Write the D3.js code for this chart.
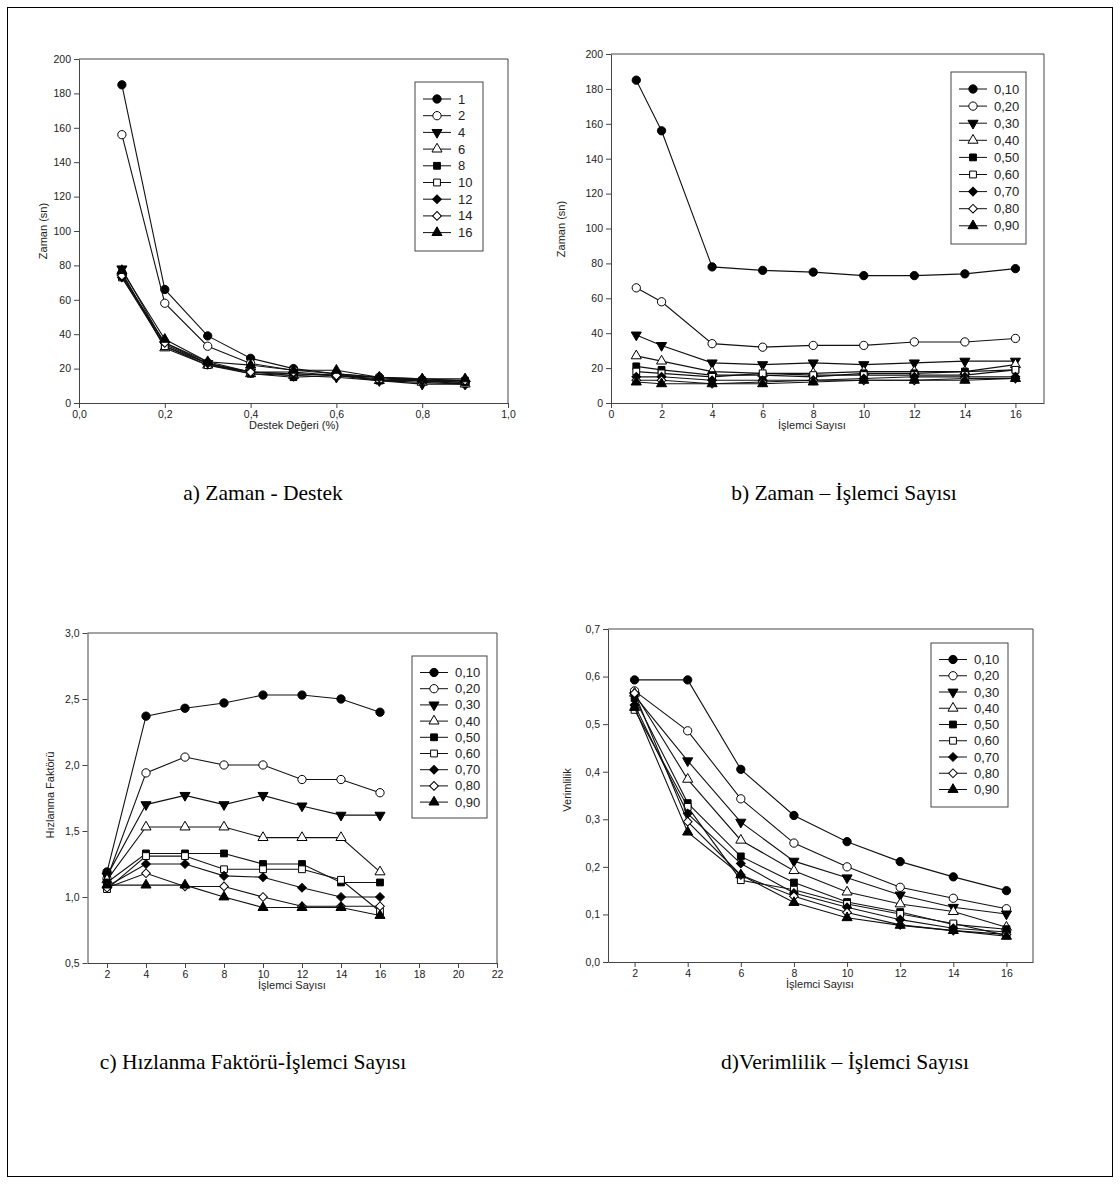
<!DOCTYPE html>
<html>
<head>
<meta charset="utf-8">
<script src="https://cdn.jsdelivr.net/npm/d3@7"></script>
<style>
  body { margin: 0; background: #fff; }
  svg { display: block; }
  .axis path, .axis line { stroke: #444; }
  .axis text { font-family: Arial, "Liberation Sans", sans-serif; font-size: 10.5px; fill: #222; }
  .label { font-family: Arial, "Liberation Sans", sans-serif; font-size: 11px; fill: #222; }
  .legend text { font-family: Arial, "Liberation Sans", sans-serif; font-size: 13px; fill: #222; }
  .caption { font-family: "Liberation Serif", "Times New Roman", serif; font-size: 21.5px; fill: #000; }
</style>
</head>
<body>
<svg id="fig" width="1120" height="1184"></svg>
<script>
// ---- data ----
const supportValues = [0.1, 0.2, 0.3, 0.4, 0.5, 0.6, 0.7, 0.8, 0.9];
const processorNames = ["1", "2", "4", "6", "8", "10", "12", "14", "16"];
const supportNames = ["0,10", "0,20", "0,30", "0,40", "0,50", "0,60", "0,70", "0,80", "0,90"];
const processorsB = [1, 2, 4, 6, 8, 10, 12, 14, 16];
const processorsCD = [2, 4, 6, 8, 10, 12, 14, 16];

// a) time vs support, one row per processor count
const timeBySupport = [
  [185, 66, 39, 26, 20, 17, 15, 13, 12],
  [156, 58, 33, 23, 19, 17, 15, 13, 11],
  [78, 34, 23, 18, 16, 15, 13, 11, 11],
  [76, 32, 22, 17, 16, 17, 13, 12, 11],
  [75, 33, 23, 17, 15, 16, 13, 13, 12],
  [73, 33, 22, 18, 17, 16, 14, 13, 13],
  [73, 35, 23, 18, 17, 16, 15, 13, 13],
  [74, 35, 24, 18, 18, 16, 15, 14, 13],
  [77, 37, 24, 22, 19, 19, 15, 14, 14],
];

// b) time vs processor count, one row per support value
const timeByProcessors = [
  [185, 156, 78, 76, 75, 73, 73, 74, 77],
  [66, 58, 34, 32, 33, 33, 35, 35, 37],
  [39, 33, 23, 22, 23, 22, 23, 24, 24],
  [27, 24, 18, 17, 17, 18, 18, 18, 22],
  [21, 19, 16, 16, 15, 17, 17, 18, 19],
  [18, 17, 15, 17, 16, 16, 16, 16, 19],
  [15, 15, 13, 13, 13, 14, 15, 15, 15],
  [13, 13, 11, 12, 13, 13, 13, 14, 14],
  [12, 11, 11, 11, 12, 13, 13, 13, 14],
];

// c) speed-up vs processor count
const speedup = [
  [1.19, 2.37, 2.43, 2.47, 2.53, 2.53, 2.50, 2.40],
  [1.14, 1.94, 2.06, 2.00, 2.00, 1.89, 1.89, 1.79],
  [1.16, 1.70, 1.77, 1.70, 1.77, 1.69, 1.62, 1.62],
  [1.13, 1.53, 1.53, 1.53, 1.45, 1.45, 1.45, 1.19],
  [1.11, 1.33, 1.33, 1.33, 1.25, 1.25, 1.11, 1.11],
  [1.06, 1.31, 1.31, 1.21, 1.21, 1.21, 1.13, 0.89],
  [1.08, 1.25, 1.25, 1.16, 1.15, 1.07, 1.00, 1.00],
  [1.07, 1.18, 1.08, 1.08, 1.00, 0.93, 0.93, 0.93],
  [1.09, 1.09, 1.09, 1.00, 0.92, 0.92, 0.92, 0.86],
];

// d) efficiency vs processor count
const efficiency = [
  [0.593, 0.593, 0.405, 0.308, 0.253, 0.211, 0.179, 0.150],
  [0.570, 0.486, 0.343, 0.250, 0.200, 0.157, 0.134, 0.112],
  [0.560, 0.423, 0.294, 0.212, 0.177, 0.141, 0.115, 0.101],
  [0.565, 0.384, 0.256, 0.192, 0.147, 0.122, 0.106, 0.073],
  [0.555, 0.334, 0.222, 0.167, 0.126, 0.105, 0.079, 0.069],
  [0.530, 0.326, 0.172, 0.152, 0.122, 0.101, 0.081, 0.056],
  [0.540, 0.312, 0.207, 0.145, 0.115, 0.089, 0.071, 0.063],
  [0.565, 0.295, 0.183, 0.138, 0.104, 0.078, 0.066, 0.058],
  [0.535, 0.273, 0.183, 0.125, 0.093, 0.077, 0.066, 0.054],
];

const captions = [
  "a) Zaman - Destek",
  "b) Zaman – İşlemci Sayısı",
  "c) Hızlanma Faktörü-İşlemci Sayısı",
  "d)Verimlilik – İşlemci Sayısı",
];

// marker style for the i-th series (same order in every panel)
const markers = [
  {type: d3.symbolCircle, size: 54, fill: "#000"},
  {type: d3.symbolCircle, size: 54, fill: "#fff"},
  {type: d3.symbolTriangle, size: 44, fill: "#000", rotate: 180},
  {type: d3.symbolTriangle, size: 44, fill: "#fff"},
  {type: d3.symbolSquare, size: 46, fill: "#000"},
  {type: d3.symbolSquare, size: 46, fill: "#fff"},
  {type: d3.symbolSquare, size: 38, fill: "#000", rotate: 45},
  {type: d3.symbolSquare, size: 38, fill: "#fff", rotate: 45},
  {type: d3.symbolTriangle, size: 44, fill: "#000"},
];

const comma = f => v => d3.format(f)(v).replace(".", ",");

const svg = d3.select("#fig");

// outer frame
svg.append("rect")
  .attr("x", 7.5).attr("y", 7.5)
  .attr("width", 1105).attr("height", 1169)
  .attr("fill", "none").attr("stroke", "#000");


function drawMarker(g, i, x, y) {
  let m = markers[i];
  g.append("path")
    .attr("d", d3.symbol(m.type, m.size)())
    .attr("transform", `translate(${x},${y})` + (m.rotate ? ` rotate(${m.rotate})` : ""))
    .attr("fill", m.fill)
    .attr("stroke", "#000")
    .attr("stroke-width", 1);
}


function drawPanel({
  left, right, top, bottom,
  xlim, ylim, xticks, yticks, xfmt, yfmt,
  xs, rows, names,
  xlabel, xlabelAt, ylabel, ylabelAt,
  legend,
}) {
  const x = d3.scaleLinear().domain(xlim).range([left, right]);
  const y = d3.scaleLinear().domain(ylim).range([bottom, top]);

  const g = svg.append("g");

  // frame (top and right sides)
  g.append("path")
    .attr("d", `M${left},${top}H${right}V${bottom}`)
    .attr("fill", "none").attr("stroke", "#444");

  g.append("g")
    .classed("axis", true)
    .attr("transform", `translate(0,${bottom})`)
    .call(d3.axisBottom(x).tickValues(xticks).tickSize(5).tickSizeOuter(0).tickFormat(xfmt));

  g.append("g")
    .classed("axis", true)
    .attr("transform", `translate(${left},0)`)
    .call(d3.axisLeft(y).tickValues(yticks).tickSize(5).tickSizeOuter(0).tickFormat(yfmt));

  g.append("text")
    .classed("label", true)
    .attr("x", xlabelAt[0]).attr("y", xlabelAt[1])
    .attr("text-anchor", "middle")
    .text(xlabel);

  g.append("text")
    .classed("label", true)
    .attr("transform", `translate(${ylabelAt[0]},${ylabelAt[1]}) rotate(-90)`)
    .attr("text-anchor", "middle")
    .text(ylabel);

  const line = d3.line()
    .x((_, j) => x(xs[j]))
    .y(v => y(v));

  rows.forEach((row, i) => {
    const sg = g.append("g");
    sg.append("path")
      .attr("d", line(row))
      .attr("fill", "none")
      .attr("stroke", "#111")
      .attr("stroke-width", 1.1);
    row.forEach((v, j) => drawMarker(sg, i, x(xs[j]), y(v)));
  });

  // legend
  const lg = g.append("g").classed("legend", true);
  lg.append("rect")
    .attr("x", legend.x).attr("y", legend.y)
    .attr("width", legend.w).attr("height", legend.h)
    .attr("fill", "#fff").attr("stroke", "#444");
  names.forEach((name, i) => {
    const ly = legend.y + legend.first + i * legend.step;
    lg.append("line")
      .attr("x1", legend.x + 8).attr("x2", legend.x + 36)
      .attr("y1", ly).attr("y2", ly)
      .attr("stroke", "#111");
    drawMarker(lg, i, legend.x + 22, ly);
    lg.append("text")
      .attr("x", legend.x + 43).attr("y", ly)
      .attr("dy", "0.35em")
      .text(name);
  });
}


drawPanel({
  left: 79, right: 508, top: 59, bottom: 403,
  xlim: [0, 1], ylim: [0, 200],
  xticks: d3.range(0, 1.01, 0.2), yticks: d3.range(0, 201, 20),
  xfmt: comma(".1f"), yfmt: d3.format("d"),
  xs: supportValues, rows: timeBySupport, names: processorNames,
  xlabel: "Destek Değeri (%)", xlabelAt: [294, 429],
  ylabel: "Zaman (sn)", ylabelAt: [47, 231],
  legend: {x: 415, y: 82, w: 68, h: 169, first: 17, step: 16.7},
});

drawPanel({
  left: 611, right: 1044, top: 54, bottom: 403,
  xlim: [0, 17.13], ylim: [0, 200],
  xticks: d3.range(0, 17, 2), yticks: d3.range(0, 201, 20),
  xfmt: d3.format("d"), yfmt: d3.format("d"),
  xs: processorsB, rows: timeByProcessors, names: supportNames,
  xlabel: "İşlemci Sayısı", xlabelAt: [812, 429],
  ylabel: "Zaman (sn)", ylabelAt: [565, 229],
  legend: {x: 951, y: 72, w: 75, h: 172, first: 17, step: 17.1},
});

drawPanel({
  left: 87.5, right: 497, top: 633, bottom: 963,
  xlim: [1, 22], ylim: [0.5, 3.0],
  xticks: d3.range(2, 23, 2), yticks: d3.range(0.5, 3.01, 0.5),
  xfmt: d3.format("d"), yfmt: comma(".1f"),
  xs: processorsCD, rows: speedup, names: supportNames,
  xlabel: "İşlemci Sayısı", xlabelAt: [292, 989],
  ylabel: "Hızlanma Faktörü", ylabelAt: [54, 795],
  legend: {x: 412, y: 656, w: 75, h: 162, first: 16.5, step: 16.2},
});

drawPanel({
  left: 608, right: 1033, top: 629, bottom: 962,
  xlim: [1, 17], ylim: [0, 0.7],
  xticks: d3.range(2, 17, 2), yticks: d3.range(0, 0.71, 0.1),
  xfmt: d3.format("d"), yfmt: comma(".1f"),
  xs: processorsCD, rows: efficiency, names: supportNames,
  xlabel: "İşlemci Sayısı", xlabelAt: [820, 988],
  ylabel: "Verimlilik", ylabelAt: [571, 790],
  legend: {x: 931, y: 643, w: 77, h: 164, first: 16.5, step: 16.25},
});

// captions under each panel
const captionAt = [[263, 500], [844, 500], [253, 1069], [845, 1069]];
captions.forEach((c, i) => {
  svg.append("text")
    .classed("caption", true)
    .attr("x", captionAt[i][0]).attr("y", captionAt[i][1])
    .attr("text-anchor", "middle")
    .text(c);
});
</script>
</body>
</html>
